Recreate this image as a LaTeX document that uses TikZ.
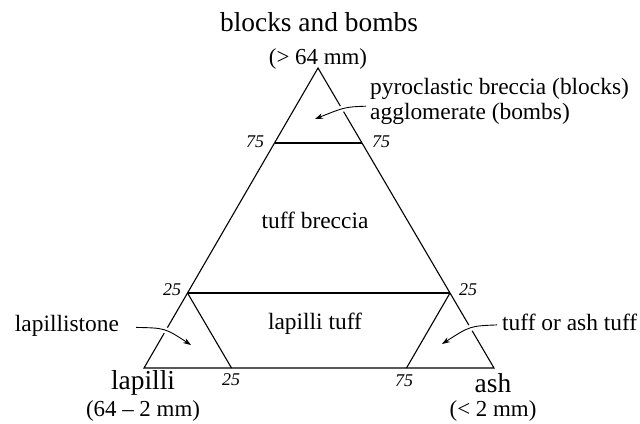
\documentclass[tikz,border=0pt]{standalone}
\usepackage{fontspec}
\setmainfont{Liberation Serif}
\usetikzlibrary{arrows.meta,positioning,calc}

\begin{document}
\begin{tikzpicture}[
  x=1bp,y=1bp,
  edge/.style={line width=1.1bp,line join=miter},
  corner/.style={font=\fontsize{27.5}{30}\selectfont,inner sep=0pt},
  grain/.style={font=\fontsize{23}{26}\selectfont,inner sep=0pt},
  field/.style={font=\fontsize{23.5}{25}\selectfont,inner sep=0pt,align=left},
  pct/.style={font=\fontsize{18}{20}\selectfont\itshape,inner sep=0pt},
  arr/.style={-{Stealth[length=8bp,width=5.5bp]},line width=0.9bp,
              preaction={draw=white,line width=6bp,-}}
]
  \useasboundingbox (0,0) rectangle (640,423);

  % corners of the triangle
  \coordinate (bb) at (318,355);
  \coordinate (lap) at (144,55);
  \coordinate (ash) at (494,55);
  % where the field boundaries meet the edges
  \coordinate (bb75l) at ($(bb)!0.25!(lap)$);
  \coordinate (bb75r) at ($(bb)!0.25!(ash)$);
  \coordinate (bb25l) at ($(bb)!0.75!(lap)$);
  \coordinate (bb25r) at ($(bb)!0.75!(ash)$);
  \coordinate (ash25) at ($(lap)!0.25!(ash)$);
  \coordinate (ash75) at ($(lap)!0.75!(ash)$);

  \draw[edge] (bb) -- (lap) -- (ash) -- cycle;
  \draw[edge] (bb75l) -- (bb75r);
  \draw[edge] (bb25l) -- (bb25r);
  \draw[edge] (bb25l) -- (ash25);
  \draw[edge] (bb25r) -- (ash75);

  % end members
  \node[corner] (bbtxt) at (319,400.5) {blocks and bombs};
  \node[grain] (bbsize) at (318,364.5) {(> 64 mm)};
  \node[corner] (laptxt) at (143,40) {lapilli};
  \node[grain] (lapsize) at (143,12) {(64 – 2 mm)};
  \node[corner] (ashtxt) at (493,39.5) {ash};
  \node[grain] (ashsize) at (493,12) {(< 2 mm)};

  % percentages
  \node[pct] (p75l) at (255,281) {75};
  \node[pct] (p75r) at (381,281) {75};
  \node[pct] (p25l) at (172,133) {25};
  \node[pct] (p25r) at (468,133) {25};
  \node[pct] (p25b) at (231,43) {25};
  \node[pct] (p75b) at (404,42) {75};

  % rock names
  \node[field] (tb) at (315,203) {tuff breccia};
  \node[field] (lt) at (315,99) {lapilli tuff};
  \node[field,anchor=west] (pyro) at (370,322) {pyroclastic breccia (blocks)\\agglomerate (bombs)};
  \node[field] (lstone) at (67,97) {lapillistone};
  \node[field,anchor=west] (tat) at (502,101) {tuff or ash tuff};

  \coordinate (pyrotip) at (315,304);
  \coordinate (lstonetip) at (191,78);
  \coordinate (tattip) at (442,79);

  \draw[arr,shorten <=4bp] (pyro) .. controls (345,316) .. (pyrotip);
  \draw[arr,shorten <=17bp] (lstone) .. controls (165,95) .. (lstonetip);
  \draw[arr,shorten <=5bp] (tat) .. controls (470,97) .. (tattip);
\end{tikzpicture}
\end{document}
